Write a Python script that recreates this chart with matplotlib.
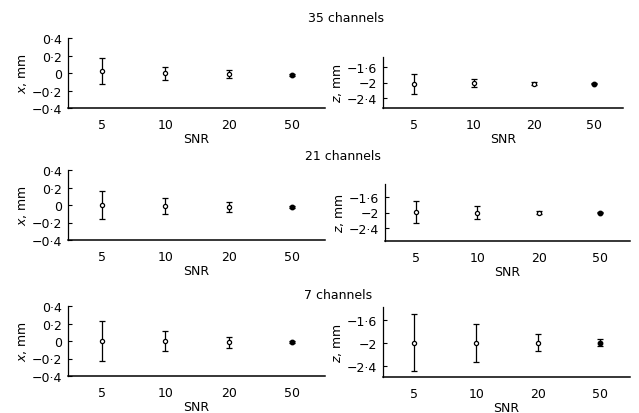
import matplotlib
matplotlib.use('Agg')
from matplotlib import pyplot as plt

plt.rcParams['font.family'] = 'DejaVu Sans'
plt.rcParams['mathtext.fontset'] = 'dejavusans'

snr = ['5', '10', '20', '50']

# x error, mm (mean and bar half-length)
x_35 = [0.02, -0.005, -0.01, -0.02]
x_err_35 = [0.15, 0.075, 0.045, 0.01]
x_21 = [0.0, -0.01, -0.02, -0.02]
x_err_21 = [0.165, 0.09, 0.055, 0.01]
x_7 = [0.0, 0.0, -0.015, -0.01]
x_err_7 = [0.225, 0.11, 0.06, 0.01]

# z error, mm
z_35 = [-2.03, -2.01, -2.03, -2.03]
z_err_35 = [0.25, 0.11, 0.04, 0.02]
z_21 = [-1.98, -2.0, -2.0, -2.0]
z_err_21 = [0.29, 0.16, 0.05, 0.02]
z_7 = [-2.0, -2.0, -2.0, -2.0]
z_err_7 = [0.5, 0.33, 0.15, 0.06]

x_ticks = [0.4, 0.2, 0, -0.2, -0.4]
x_ticklabels = ['0\u00b74', '0\u00b72', '0', '\u22120\u00b72', '\u22120\u00b74']
z_ticks = [-1.6, -2.0, -2.4]
z_ticklabels = ['\u22121\u00b76', '\u22122', '\u22122\u00b74']


def panel(rect, y, err, ylim, ticks, ticklabels, ylabel, xlim):
    ax = fig.add_axes(rect)
    pos = list(range(1, len(snr) + 1))
    ax.errorbar(pos, y, yerr=err, fmt='none', ecolor='k', elinewidth=0.9,
                capsize=2, capthick=0.9)
    # open circles, last one filled
    ax.plot(pos[:3], y[:3], 'o', ms=3, mfc='white', mec='k', mew=0.9)
    ax.plot(pos[3:], y[3:], 'o', ms=3.2, color='k')
    ax.set_xlim(xlim)
    ax.set_ylim(ylim)
    ax.set_xticks(pos)
    ax.set_xticklabels(snr)
    ax.set_yticks(ticks)
    ax.set_yticklabels(ticklabels)
    ax.spines['top'].set_visible(False)
    ax.spines['right'].set_visible(False)
    ax.spines['left'].set_linewidth(0.9)
    ax.spines['bottom'].set_linewidth(1.1)
    ax.tick_params(axis='y', direction='in', length=3, width=0.8, pad=4, labelsize=9)
    ax.tick_params(axis='x', length=0, pad=7, labelsize=9)
    ax.set_xlabel('SNR', fontsize=9, labelpad=1)
    ax.set_ylabel(ylabel, fontsize=9, labelpad=2)
    return ax


fig = plt.figure(figsize=(6.39, 4.14), dpi=100)

W, H = 639.0, 414.0

def rect(left, top, right, bottom):
    return [left / W, 1 - bottom / H, (right - left) / W, (bottom - top) / H]

xlab = '$x$, mm'
zlab = '$z$, mm'

panel(rect(68, 39, 325, 109), x_35, x_err_35, (-0.4, 0.4), x_ticks, x_ticklabels, xlab, (0.46, 4.52))
panel(rect(383, 58, 623, 109), z_35, z_err_35, (-2.64, -1.36), z_ticks, z_ticklabels, zlab, (0.49, 4.49))
panel(rect(68, 171, 325, 241), x_21, x_err_21, (-0.4, 0.4), x_ticks, x_ticklabels, xlab, (0.46, 4.52))
panel(rect(385, 185, 630, 242), z_21, z_err_21, (-2.74, -1.26), z_ticks, z_ticklabels, zlab, (0.49, 4.49))
panel(rect(68, 307, 325, 377), x_7, x_err_7, (-0.4, 0.4), x_ticks, x_ticklabels, xlab, (0.46, 4.52))
panel(rect(383, 308, 630, 378), z_7, z_err_7, (-2.6, -1.38), z_ticks, z_ticklabels, zlab, (0.49, 4.49))

fig.text(346 / W, 1 - 18 / H, '35 channels', ha='center', va='center', fontsize=9)
fig.text(343 / W, 1 - 157 / H, '21 channels', ha='center', va='center', fontsize=9)
fig.text(338 / W, 1 - 296 / H, '7 channels', ha='center', va='center', fontsize=9)

plt.savefig('out.png', dpi=100)
